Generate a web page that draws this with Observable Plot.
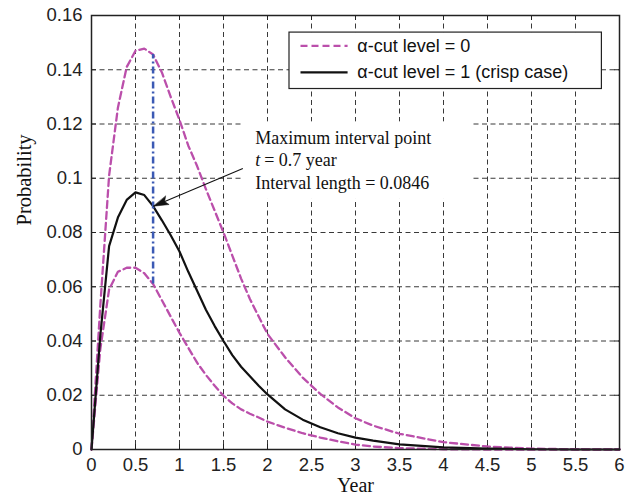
<!DOCTYPE html>
<html>
<head>
<meta charset="utf-8">
<script src="https://cdn.jsdelivr.net/npm/d3@7"></script>
<script src="https://cdn.jsdelivr.net/npm/@observablehq/plot@0.6"></script>
<style>
  html, body { margin: 0; padding: 0; background: #fff; }
</style>
</head>
<body>
<div id="chart"></div>
<script>
// ---- Data ----
const years = [0,0.1,0.2,0.3,0.4,0.5,0.6,0.7,0.8,0.9,1.0,1.1,1.2,1.3,1.4,1.5,1.6,1.7,1.8,1.9,2.0,2.2,2.4,2.6,2.8,3.0,3.2,3.5,4.0,4.5,5.0,5.5,6.0];
const crisp = [0,0.042,0.075,0.0855,0.092,0.0948,0.0938,0.0897,0.0845,0.079,0.073,0.0655,0.0585,0.0515,0.0455,0.040,0.0348,0.0305,0.027,0.0235,0.0203,0.0148,0.011,0.0082,0.006,0.0044,0.0033,0.0019,0.0008,0.0003,0.0001,0,0];
const cutUpper = [0,0.053,0.101,0.126,0.141,0.147,0.1478,0.1456,0.139,0.130,0.1215,0.112,0.1045,0.096,0.088,0.080,0.0715,0.063,0.0555,0.049,0.0426,0.034,0.0265,0.0205,0.0155,0.0115,0.0088,0.0058,0.0027,0.0011,0.0003,0.0001,0];
const cutLower = [0,0.037,0.059,0.0655,0.067,0.067,0.065,0.061,0.055,0.049,0.043,0.0375,0.032,0.0275,0.0235,0.0198,0.017,0.0148,0.0132,0.0118,0.0103,0.008,0.006,0.0044,0.003,0.0018,0.0011,0.0005,0.0001,0,0,0,0];

const xTicks = [0,0.5,1,1.5,2,2.5,3,3.5,4,4.5,5,5.5,6];
const yTicks = [0,0.02,0.04,0.06,0.08,0.1,0.12,0.14,0.16];
const xTickLabels = ["0","0.5","1","1.5","2","2.5","3","3.5","4","4.5","5","5.5","6"];
const yTickLabels = ["0","0.02","0.04","0.06","0.08","0.1","0.12","0.14","0.16"];

const legendLabels = ["\u03b1-cut level = 0", "\u03b1-cut level = 1 (crisp case)"];

// annotation
const maxT = 0.7;
const maxLow = 0.061;
const maxHigh = 0.1456;
const annLines = ["Maximum interval point", "= 0.7 year", "Interval length = 0.0846"];
const annX = 1.86, annY = 0.1148;
const annBox = {x1: 1.716, x2: 4.34, y1: 0.0922, y2: 0.1208};
const arrowFrom = {x: 1.72, y: 0.1036};
const arrowTo = {x: 0.705, y: 0.0897};

// legend placement (data units)
const legBox = {x1: 2.25, x2: 5.80, y1: 0.1329, y2: 0.1537};
const legRows = [0.1488, 0.1390];
const legLineX = [2.375, 2.91];
const legTextX = 3.02;

// ---- Layout ----
const W = 637, H = 502;
const mL = 91, mR = 18, mT = 15, mB = 53;
const pw = W - mL - mR, ph = H - mT - mB;

const magenta = "#bb4fab";
const blue = "#3c5ab4";

const rows = (ys) => years.map((t, i) => ({t, v: ys[i]}));

// direction of annotation arrow in pixels -> rotate for the filled head
const px = (x) => mL + x / 6 * pw;
const py = (y) => mT + (1 - y / 0.16) * ph;
const ddx = px(arrowTo.x) - px(arrowFrom.x);
const ddy = py(arrowTo.y) - py(arrowFrom.y);
const headRotate = Math.atan2(ddx, -ddy) * 180 / Math.PI;

const headShape = {
  draw(context, l, r) {
    context.moveTo(0, 0);
    context.lineTo(-4.5, l);
    context.lineTo(0, l * 0.8);
    context.lineTo(4.5, l);
    context.closePath();
  }
};

const serif = "'Liberation Serif', 'Times New Roman', serif";

const plot = Plot.plot({
  width: W,
  height: H,
  marginLeft: mL,
  marginRight: mR,
  marginTop: mT,
  marginBottom: mB,
  style: {fontFamily: "'Liberation Sans', Arial, sans-serif", fontSize: "18px", background: "#fff", color: "#222"},
  x: {domain: [0, 6]},
  y: {domain: [0, 0.16]},
  marks: [
    // grid
    Plot.ruleX(xTicks.slice(1, -1), {stroke: "#222", strokeWidth: 0.9, strokeDasharray: "5,3.5"}),
    Plot.ruleY(yTicks.slice(1, -1), {stroke: "#222", strokeWidth: 0.9, strokeDasharray: "5,3.5"}),
    // inward ticks on all four sides
    Plot.tickX(xTicks, {x: d => d, insetTop: ph - 5, stroke: "#222", strokeWidth: 1}),
    Plot.tickX(xTicks, {x: d => d, insetBottom: ph - 5, stroke: "#222", strokeWidth: 1}),
    Plot.tickY(yTicks, {y: d => d, insetRight: pw - 5, stroke: "#222", strokeWidth: 1}),
    Plot.tickY(yTicks, {y: d => d, insetLeft: pw - 5, stroke: "#222", strokeWidth: 1}),
    // axes (labels only)
    Plot.axisX(xTicks, {tickSize: 0, tickPadding: 8, tickFormat: (d, i) => xTickLabels[i], label: null, fontSize: 18.5, fill: "#222"}),
    Plot.axisY(yTicks, {tickSize: 0, tickPadding: 9, tickFormat: (d, i) => yTickLabels[i], label: null, fontSize: 18.5, fill: "#222"}),
    // axis titles
    Plot.text(["Year"], {frameAnchor: "bottom", dy: 42, fontFamily: serif, fontSize: 20, fill: "#111"}),
    Plot.text(["Probability"], {frameAnchor: "left", dx: -67, dy: -7, rotate: -90, fontFamily: serif, fontSize: 20.5, fill: "#111"}),
    // white box behind annotation text
    Plot.rect([annBox], {x1: "x1", x2: "x2", y1: "y1", y2: "y2", fill: "#fff"}),
    // curves
    Plot.line(rows(cutUpper), {x: "t", y: "v", stroke: magenta, strokeWidth: 2.3, strokeDasharray: "7,4"}),
    Plot.line(rows(cutLower), {x: "t", y: "v", stroke: magenta, strokeWidth: 2.3, strokeDasharray: "7,4"}),
    Plot.line(rows(crisp), {x: "t", y: "v", stroke: "#111", strokeWidth: 2.2}),
    // maximum interval
    Plot.ruleX([maxT], {y1: maxLow, y2: maxHigh, stroke: blue, strokeWidth: 2.5, strokeDasharray: "7,3,2,3"}),
    // annotation arrow
    Plot.link([arrowFrom], {x1: "x", y1: "y", x2: d => arrowTo.x, y2: d => arrowTo.y, stroke: "#111", strokeWidth: 1.1}),
    Plot.vector([arrowTo], {x: "x", y: "y", length: 15, rotate: headRotate, anchor: "start", shape: headShape, fill: "#111", stroke: "#111", strokeWidth: 0.5}),
    // annotation text
    Plot.text([annLines[0]], {x: () => annX, y: () => annY, textAnchor: "start", fontFamily: serif, fontSize: 18, fill: "#111"}),
    Plot.text(["t"], {x: () => annX, y: () => annY, dy: 22.5, textAnchor: "start", fontFamily: serif, fontStyle: "italic", fontSize: 18, fill: "#111"}),
    Plot.text([annLines[1]], {x: () => annX, y: () => annY, dx: 9, dy: 22.5, textAnchor: "start", fontFamily: serif, fontSize: 18, fill: "#111"}),
    Plot.text([annLines[2]], {x: () => annX, y: () => annY, dy: 45, textAnchor: "start", fontFamily: serif, fontSize: 18, fill: "#111"}),
    // legend
    Plot.rect([legBox], {x1: "x1", x2: "x2", y1: "y1", y2: "y2", fill: "#fff", stroke: "#222", strokeWidth: 1.2}),
    Plot.link([0], {x1: () => legLineX[0], x2: () => legLineX[1], y1: () => legRows[0], y2: () => legRows[0], stroke: magenta, strokeWidth: 2.3, strokeDasharray: "7,4"}),
    Plot.link([0], {x1: () => legLineX[0], x2: () => legLineX[1], y1: () => legRows[1], y2: () => legRows[1], stroke: "#111", strokeWidth: 2.2}),
    Plot.text(legendLabels, {x: () => legTextX, y: (d, i) => legRows[i], textAnchor: "start", fontSize: 18, fill: "#111"}),
    // frame
    Plot.frame({stroke: "#222", strokeWidth: 1.5})
  ]
});

document.getElementById("chart").appendChild(plot);
</script>
</body>
</html>
